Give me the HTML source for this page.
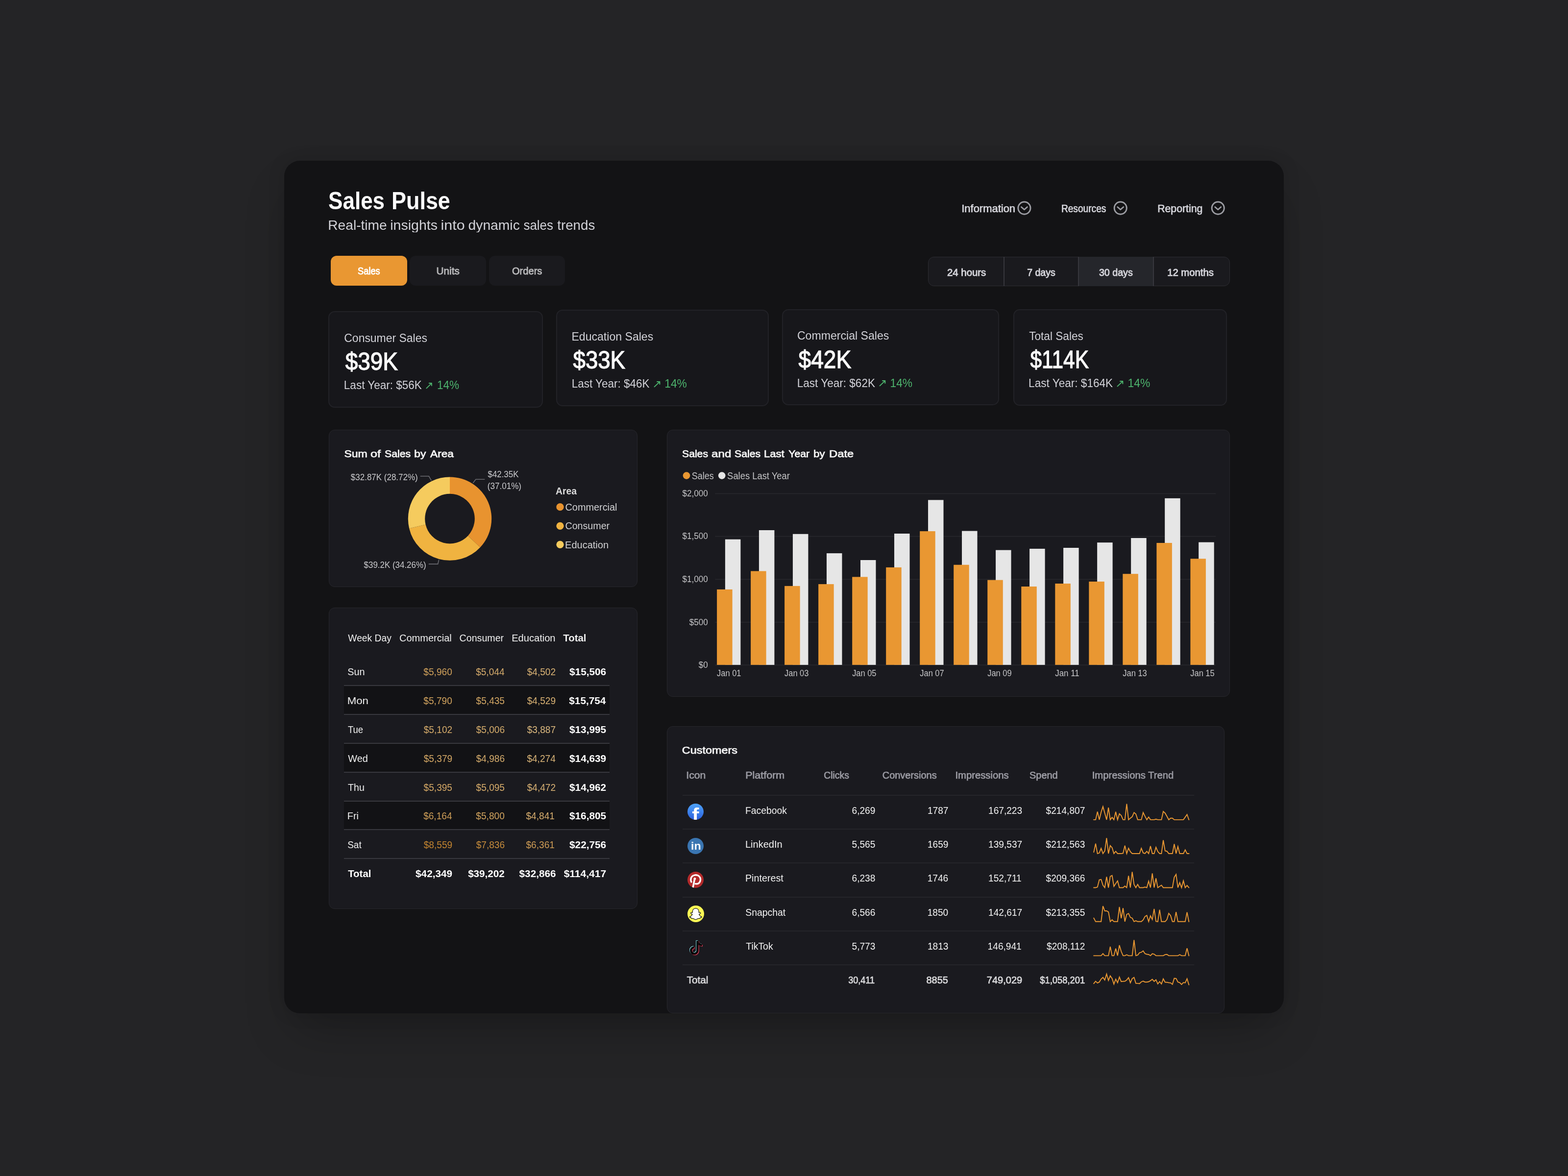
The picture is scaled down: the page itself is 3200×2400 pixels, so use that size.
<!DOCTYPE html>
<html lang="en">
<head>
<meta charset="utf-8">
<title>Sales Pulse</title>
<meta name="viewport" content="width=3200">
<style>
*{box-sizing:border-box;margin:0;padding:0}
html,body{width:3200px;height:2400px;overflow:hidden;background:#242426}
body{font-family:"Liberation Sans",sans-serif;-webkit-font-smoothing:antialiased}
.page{position:relative;overflow:hidden;background:#242426}
.abs,.panel,.card,.btn,.seg,.segon,.segdiv,.dot,.alt,.mline,.cline,.ico{position:absolute;display:block}
.panel{background:#131315;border-radius:32px;box-shadow:0 50px 100px -24px rgba(0,0,0,.26),0 0 36px rgba(0,0,0,.12);overflow:hidden}
.t{position:absolute;display:block;white-space:nowrap;line-height:1;transform-origin:0 0;font-weight:400;font-style:normal}
h1.t,h2.t,p.t{margin:0}
.card{border:1px solid #27272c;border-radius:12px}
.kpi{background:#17171b;border:2px solid #222227;border-radius:13px}
.viz{background:#1a1a1f}
.btn{background:#1a1a1e;border-radius:12px}
.btn.on{background:#e99732}
.seg{background:#1a1a1e;border:1px solid #2c2c32;border-radius:12px}
.segon{background:#25262b}
.segdiv{background:#37373d}
.dot{border-radius:50%}
.alt{background:#121215}
.mline{background:#38383e}
.cline{background:#25252a}
.ico{border-radius:50%;overflow:hidden}
svg{overflow:visible}
</style>
</head>
<body>
<main class="page" style="left:0px;top:0px;width:3200px;height:2400px;">
 <section class="panel" style="left:580px;top:328px;width:2040px;height:1740px;">
  <header class="abs" style="left:0px;top:0px;width:2040px;height:160px;">
   <h1 class="abs" style="left:89px;top:49px;width:250px;height:65px;">
    <span class="t" style="left:1px;top:8px;font-size:50px;color:#fafafa;font-weight:700;transform:translateX(0.09px) scaleX(0.8800);">Sales </span>
    <span class="t" style="left:130px;top:8px;font-size:50px;color:#fafafa;font-weight:700;transform:translateX(0.09px) scaleX(0.8974);">Pulse</span>
   </h1>
   <p class="abs" style="left:89px;top:113px;width:546px;height:36px;">
    <span class="t" style="left:0px;top:5px;font-size:28px;color:#d2d2d8;transform:translateX(0.21px) scaleX(1.0059);height:28px;overflow:hidden;">Real-time </span>
    <span class="t" style="left:127px;top:5px;font-size:28px;color:#d2d2d8;transform:translateX(0.28px) scaleX(1.0195);height:28px;overflow:hidden;">insights </span>
    <span class="t" style="left:230px;top:5px;font-size:28px;color:#d2d2d8;transform:translateX(0.48px) scaleX(1.0902);height:28px;overflow:hidden;">into </span>
    <span class="t" style="left:286px;top:5px;font-size:28px;color:#d2d2d8;transform:translateX(0.58px) scaleX(1.0088);height:28px;overflow:hidden;">dynamic </span>
    <span class="t" style="left:399px;top:5px;font-size:28px;color:#d2d2d8;transform:translateX(0.39px) scaleX(0.9282);height:28px;overflow:hidden;">sales </span>
    <span class="t" style="left:468px;top:5px;font-size:28px;color:#d2d2d8;transform:translateX(0.24px) scaleX(0.9895);height:28px;overflow:hidden;">trends</span>
   </p>
   <nav class="abs" style="left:1370px;top:72px;width:570px;height:50px;">
    <span class="t" style="left:12px;top:16px;font-size:21.5px;color:#d6d6dc;transform:translateX(0.22px) scaleX(1.0214);-webkit-text-stroke:0.7px #d6d6dc;">Information</span>
    <svg class="abs" style="left:124px;top:8px;" width="33" height="33" viewBox="2074 408 33 33" aria-hidden="true">
     <g transform="translate(2090.4,424.6)"><circle r="12.6" fill="none" stroke="#9c9da3" stroke-width="2.9"/><path d="M-6 -2.1 L0 3.1 L6 -2.1" fill="none" stroke="#9c9da3" stroke-width="2.8" stroke-linecap="round" stroke-linejoin="round"/></g>
    </svg>
    <span class="t" style="left:215px;top:16px;font-size:21.5px;color:#d6d6dc;transform:translateX(0.89px) scaleX(0.8906);-webkit-text-stroke:0.7px #d6d6dc;">Resources</span>
    <svg class="abs" style="left:320px;top:8px;" width="33" height="33" viewBox="2270 408 33 33" aria-hidden="true">
     <g transform="translate(2286.7,424.6)"><circle r="12.6" fill="none" stroke="#9c9da3" stroke-width="2.9"/><path d="M-6 -2.1 L0 3.1 L6 -2.1" fill="none" stroke="#9c9da3" stroke-width="2.8" stroke-linecap="round" stroke-linejoin="round"/></g>
    </svg>
    <span class="t" style="left:412px;top:16px;font-size:21.5px;color:#d6d6dc;transform:translateX(0.22px) scaleX(0.9871);-webkit-text-stroke:0.7px #d6d6dc;">Reporting</span>
    <svg class="abs" style="left:519px;top:8px;" width="33" height="33" viewBox="2469 408 33 33" aria-hidden="true">
     <g transform="translate(2485.7,424.6)"><circle r="12.6" fill="none" stroke="#9c9da3" stroke-width="2.9"/><path d="M-6 -2.1 L0 3.1 L6 -2.1" fill="none" stroke="#9c9da3" stroke-width="2.8" stroke-linecap="round" stroke-linejoin="round"/></g>
    </svg>
   </nav>
  </header>
  <div class="abs" style="left:90px;top:187px;width:500px;height:75px;">
   <div class="btn on" style="left:5px;top:7px;width:156px;height:61px;">
    <span class="t" style="left:55px;top:20px;font-size:21px;color:#ffffff;transform:translateX(0.09px) scaleX(0.8678);-webkit-text-stroke:0.85px #ffffff;">Sales</span>
   </div>
   <div class="btn" style="left:166px;top:7px;width:156px;height:61px;">
    <span class="t" style="left:54px;top:20px;font-size:21px;color:#b9b9bb;transform:translateX(0.57px) scaleX(0.9867);-webkit-text-stroke:0.85px #b9b9bb;">Units</span>
   </div>
   <div class="btn" style="left:328px;top:7px;width:155px;height:61px;">
    <span class="t" style="left:46px;top:20px;font-size:21px;color:#b9b9bb;transform:translateX(0.98px) scaleX(0.9574);-webkit-text-stroke:0.85px #b9b9bb;">Orders</span>
   </div>
  </div>
  <div class="seg" style="left:1314px;top:196px;width:616px;height:60px;">
   <div class="segon" style="left:306px;top:-1px;width:153px;height:60px;">
   </div>
   <div class="segdiv" style="left:153px;top:-1px;width:2px;height:60px;">
   </div>
   <div class="segdiv" style="left:305px;top:-1px;width:2px;height:60px;">
   </div>
   <div class="segdiv" style="left:458px;top:-1px;width:2px;height:60px;">
   </div>
   <span class="t" style="left:38px;top:21px;font-size:20px;color:#d4d4da;transform:translateX(0.02px) scaleX(1.0186);-webkit-text-stroke:0.9px #d4d4da;">24 hours</span>
   <span class="t" style="left:201px;top:21px;font-size:20px;color:#d4d4da;transform:translateX(0.17px) scaleX(0.9777);-webkit-text-stroke:0.9px #d4d4da;">7 days</span>
   <span class="t" style="left:347px;top:21px;font-size:20px;color:#d4d4da;transform:translateX(0.90px) scaleX(0.9831);-webkit-text-stroke:0.9px #d4d4da;">30 days</span>
   <span class="t" style="left:487px;top:21px;font-size:20px;color:#d4d4da;transform:translateX(0.17px) scaleX(1.0137);-webkit-text-stroke:0.9px #d4d4da;">12 months</span>
  </div>
  <article class="card kpi" style="left:90px;top:307px;width:438px;height:197px;">
   <span class="t" style="left:30px;top:41px;font-size:24.5px;color:#d2d2d8;transform:translateX(0.30px) scaleX(0.9364);">Consumer Sales</span>
   <span class="t" style="left:32px;top:76px;font-size:50.5px;color:#fafafa;transform:translateX(0.64px) scaleX(0.9103);-webkit-text-stroke:1.3px #fafafa;">$39K</span>
   <span class="t" style="left:29px;top:137px;font-size:24.5px;color:#d2d2d8;transform:translateX(0.83px) scaleX(0.9191);">Last Year: $56K</span>
   <span class="t" style="left:194px;top:140px;font-size:21.5px;color:#4db36d;transform:translateX(0.11px) scaleX(1.0211);font-family:"DejaVu Sans", sans-serif;">↗</span>
   <span class="t" style="left:219px;top:137px;font-size:24.5px;color:#4db36d;transform:translateX(0.91px) scaleX(0.9214);">14%</span>
  </article>
  <article class="card kpi" style="left:555px;top:304px;width:434px;height:197px;">
   <span class="t" style="left:29px;top:41px;font-size:24.5px;color:#d2d2d8;transform:translateX(0.42px) scaleX(0.9422);">Education Sales</span>
   <span class="t" style="left:32px;top:76px;font-size:50.5px;color:#fafafa;transform:translateX(0.52px) scaleX(0.9029);-webkit-text-stroke:1.3px #fafafa;">$33K</span>
   <span class="t" style="left:29px;top:137px;font-size:24.5px;color:#d2d2d8;transform:translateX(0.63px) scaleX(0.9189);">Last Year: $46K</span>
   <span class="t" style="left:194px;top:140px;font-size:21.5px;color:#4db36d;transform:translateX(0.37px) scaleX(1.0599);font-family:"DejaVu Sans", sans-serif;">↗</span>
   <span class="t" style="left:219px;top:137px;font-size:24.5px;color:#4db36d;transform:translateX(0.26px) scaleX(0.9294);">14%</span>
  </article>
  <article class="card kpi" style="left:1016px;top:303px;width:443px;height:196px;">
   <span class="t" style="left:28px;top:40px;font-size:24.5px;color:#d2d2d8;transform:translateX(0.91px) scaleX(0.9429);">Commercial Sales</span>
   <span class="t" style="left:31px;top:76px;font-size:50.5px;color:#fafafa;transform:translateX(0.60px) scaleX(0.9119);-webkit-text-stroke:1.3px #fafafa;">$42K</span>
   <span class="t" style="left:28px;top:137px;font-size:24.5px;color:#d2d2d8;transform:translateX(0.68px) scaleX(0.9209);">Last Year: $62K</span>
   <span class="t" style="left:193px;top:139px;font-size:21.5px;color:#4db36d;transform:translateX(0.04px) scaleX(1.0534);font-family:"DejaVu Sans", sans-serif;">↗</span>
   <span class="t" style="left:218px;top:137px;font-size:24.5px;color:#4db36d;transform:translateX(0.49px) scaleX(0.9304);">14%</span>
  </article>
  <article class="card kpi" style="left:1488px;top:303px;width:436px;height:197px;">
   <span class="t" style="left:30px;top:41px;font-size:24.5px;color:#d2d2d8;transform:translateX(0.16px) scaleX(0.9235);">Total Sales</span>
   <span class="t" style="left:32px;top:76px;font-size:50.5px;color:#fafafa;transform:translateX(0.43px) scaleX(0.8398);-webkit-text-stroke:1.3px #fafafa;">$114K</span>
   <span class="t" style="left:29px;top:137px;font-size:24.5px;color:#d2d2d8;transform:translateX(0.08px) scaleX(0.9222);">Last Year: $164K</span>
   <span class="t" style="left:206px;top:140px;font-size:21.5px;color:#4db36d;transform:translateX(0.04px) scaleX(1.0534);font-family:"DejaVu Sans", sans-serif;">↗</span>
   <span class="t" style="left:231px;top:137px;font-size:24.5px;color:#4db36d;transform:translateX(0.57px) scaleX(0.9312);">14%</span>
  </article>
  <article class="card viz" style="left:91px;top:549px;width:630px;height:321px;">
   <h2 class="abs" style="left:29px;top:36px;width:227px;height:26px;">
    <span class="t" style="left:1px;top:2px;font-size:20.5px;color:#f6f6f6;transform:translateX(0.41px) scaleX(1.1239);-webkit-text-stroke:0.75px #f6f6f6;">Sum </span>
    <span class="t" style="left:55px;top:2px;font-size:20.5px;color:#f6f6f6;transform:translateX(0.07px) scaleX(1.2260);-webkit-text-stroke:0.75px #f6f6f6;">of </span>
    <span class="t" style="left:84px;top:2px;font-size:20.5px;color:#f6f6f6;transform:translateX(0.08px) scaleX(1.0337);-webkit-text-stroke:0.75px #f6f6f6;">Sales </span>
    <span class="t" style="left:144px;top:2px;font-size:20.5px;color:#f6f6f6;transform:translateX(0.36px) scaleX(1.1073);-webkit-text-stroke:0.75px #f6f6f6;">by </span>
    <span class="t" style="left:177px;top:2px;font-size:20.5px;color:#f6f6f6;transform:translateX(0.05px) scaleX(1.1047);-webkit-text-stroke:0.75px #f6f6f6;">Area</span>
   </h2>
   <svg class="abs" style="left:146px;top:80px;" width="201" height="201" viewBox="818 958 201 201" aria-hidden="true">
    <g transform="translate(918.0,1058.6)"><path d="M0.00 -85.20 A85.2 85.2 0 0 1 62.07 58.36 L37.01 34.80 A50.8 50.8 0 0 0 0.00 -50.80 Z" fill="#e8932f"/><path d="M62.07 58.36 A85.2 85.2 0 0 1 -82.87 19.79 L-49.41 11.80 A50.8 50.8 0 0 0 37.01 34.80 Z" fill="#f0b340"/><path d="M-82.87 19.79 A85.2 85.2 0 0 1 -0.00 -85.20 L-0.00 -50.80 A50.8 50.8 0 0 0 -49.41 11.80 Z" fill="#f5cb5e"/><polyline points="-60.3,-86.8 -42.8,-86.8 -37.7,-77.9" fill="none" stroke="#6a6a70" stroke-width="1.6"/><polyline points="71.3,-80.4 53.0,-80.4 47.3,-72.8" fill="none" stroke="#6a6a70" stroke-width="1.6"/><polyline points="-43.2,92.5 -24.4,92.5 -22.3,83.9" fill="none" stroke="#6a6a70" stroke-width="1.6"/></g>
   </svg>
   <span class="t" style="left:43px;top:87px;font-size:18.5px;color:#c9c9cc;transform:translateX(0.87px) scaleX(0.9171);">$32.87K (28.72%)</span>
   <span class="t" style="left:323px;top:81px;font-size:18.5px;color:#c9c9cc;transform:translateX(0.50px) scaleX(0.9130);">$42.35K</span>
   <span class="t" style="left:322px;top:105px;font-size:18.5px;color:#c9c9cc;transform:translateX(0.80px) scaleX(0.9226);">(37.01%)</span>
   <span class="t" style="left:70px;top:266px;font-size:18.5px;color:#c9c9cc;transform:translateX(0.60px) scaleX(0.9146);">$39.2K (34.26%)</span>
   <span class="t" style="left:462px;top:114px;font-size:20px;color:#dcdcdc;font-weight:700;transform:translateX(0.08px) scaleX(0.9648);">Area</span>
   <svg class="abs" style="left:462px;top:148px;" width="19" height="19" viewBox="1134 1026 19 19" aria-hidden="true">
    <circle cx="1143.0" cy="1034.7" r="7.65" fill="#e8932f"/>
   </svg>
   <span class="t" style="left:481px;top:147px;font-size:20px;color:#d2d2d4;transform:translateX(0.52px) scaleX(0.9933);">Commercial</span>
   <svg class="abs" style="left:462px;top:186px;" width="19" height="19" viewBox="1134 1064 19 19" aria-hidden="true">
    <circle cx="1143.0" cy="1073.3" r="7.65" fill="#f0b340"/>
   </svg>
   <span class="t" style="left:481px;top:185px;font-size:20px;color:#d2d2d4;transform:translateX(0.44px) scaleX(0.9834);">Consumer</span>
   <svg class="abs" style="left:462px;top:224px;" width="19" height="19" viewBox="1134 1102 19 19" aria-hidden="true">
    <circle cx="1143.0" cy="1111.3" r="7.65" fill="#f5cb5e"/>
   </svg>
   <span class="t" style="left:481px;top:224px;font-size:20px;color:#d2d2d4;transform:translateX(0.11px) scaleX(0.9998);">Education</span>
  </article>
  <article class="card viz" style="left:91px;top:912px;width:630px;height:615px;">
   <span class="t" style="left:38px;top:51px;font-size:20.5px;color:#f0f0f0;transform:translateX(0.31px) scaleX(0.9399);">Week Day</span>
   <span class="t" style="left:143px;top:51px;font-size:20.5px;color:#f0f0f0;transform:translateX(0.04px) scaleX(0.9760);">Commercial</span>
   <span class="t" style="left:265px;top:51px;font-size:20.5px;color:#f0f0f0;transform:translateX(0.54px) scaleX(0.9579);">Consumer</span>
   <span class="t" style="left:372px;top:51px;font-size:20.5px;color:#f0f0f0;transform:translateX(0.15px) scaleX(0.9805);">Education</span>
   <span class="t" style="left:477px;top:51px;font-size:20.5px;color:#f0f0f0;font-weight:700;transform:translateX(0.15px) scaleX(0.9989);">Total</span>
   <div class="mline" style="left:30px;top:157px;width:542px;height:2px;">
   </div>
   <span class="t" style="left:37px;top:120px;font-size:20.5px;color:#f0f0f0;transform:translateX(0.19px) scaleX(0.9666);">Sun</span>
   <span class="t" style="left:192px;top:120px;font-size:20.5px;color:#d0a15b;transform:translateX(0.37px) scaleX(0.9312);">$5,960</span>
   <span class="t" style="left:299px;top:120px;font-size:20.5px;color:#d5ab6b;transform:translateX(0.13px) scaleX(0.9312);">$5,044</span>
   <span class="t" style="left:403px;top:120px;font-size:20.5px;color:#d8b174;transform:translateX(0.70px) scaleX(0.9312);">$4,502</span>
   <span class="t" style="left:490px;top:120px;font-size:20.5px;color:#ffffff;font-weight:700;transform:translateX(0.05px) scaleX(1.0137);">$15,506</span>
   <div class="alt" style="left:30px;top:159px;width:542px;height:58px;">
   </div>
   <div class="mline" style="left:30px;top:216px;width:542px;height:2px;">
   </div>
   <span class="t" style="left:36px;top:179px;font-size:20.5px;color:#f0f0f0;transform:translateX(0.68px) scaleX(1.0856);">Mon</span>
   <span class="t" style="left:192px;top:179px;font-size:20.5px;color:#d1a35e;transform:translateX(0.37px) scaleX(0.9312);">$5,790</span>
   <span class="t" style="left:299px;top:179px;font-size:20.5px;color:#d3a764;transform:translateX(0.60px) scaleX(0.9312);">$5,435</span>
   <span class="t" style="left:403px;top:179px;font-size:20.5px;color:#d8b173;transform:translateX(0.70px) scaleX(0.9312);">$4,529</span>
   <span class="t" style="left:489px;top:179px;font-size:20.5px;color:#ffffff;font-weight:700;transform:translateX(0.29px) scaleX(1.0137);">$15,754</span>
   <div class="mline" style="left:30px;top:275px;width:542px;height:2px;">
   </div>
   <span class="t" style="left:37px;top:238px;font-size:20.5px;color:#f0f0f0;transform:translateX(0.99px) scaleX(0.9011);">Tue</span>
   <span class="t" style="left:192px;top:238px;font-size:20.5px;color:#d4aa6a;transform:translateX(0.74px) scaleX(0.9312);">$5,102</span>
   <span class="t" style="left:299px;top:238px;font-size:20.5px;color:#d5ac6b;transform:translateX(0.71px) scaleX(0.9312);">$5,006</span>
   <span class="t" style="left:403px;top:238px;font-size:20.5px;color:#dbb87e;transform:translateX(0.70px) scaleX(0.9312);">$3,887</span>
   <span class="t" style="left:489px;top:238px;font-size:20.5px;color:#ffffff;font-weight:700;transform:translateX(0.96px) scaleX(1.0137);">$13,995</span>
   <div class="alt" style="left:30px;top:277px;width:542px;height:58px;">
   </div>
   <div class="mline" style="left:30px;top:334px;width:542px;height:2px;">
   </div>
   <span class="t" style="left:38px;top:297px;font-size:20.5px;color:#f0f0f0;transform:translateX(0.21px) scaleX(0.9713);">Wed</span>
   <span class="t" style="left:192px;top:297px;font-size:20.5px;color:#d3a765;transform:translateX(0.73px) scaleX(0.9312);">$5,379</span>
   <span class="t" style="left:299px;top:297px;font-size:20.5px;color:#d5ac6c;transform:translateX(0.71px) scaleX(0.9312);">$4,986</span>
   <span class="t" style="left:403px;top:297px;font-size:20.5px;color:#d9b478;transform:translateX(0.38px) scaleX(0.9312);">$4,274</span>
   <span class="t" style="left:490px;top:297px;font-size:20.5px;color:#ffffff;font-weight:700;transform:translateX(0.05px) scaleX(1.0137);">$14,639</span>
   <div class="mline" style="left:30px;top:393px;width:542px;height:2px;">
   </div>
   <span class="t" style="left:38px;top:356px;font-size:20.5px;color:#f0f0f0;transform:translateX(0.06px) scaleX(0.9565);">Thu</span>
   <span class="t" style="left:192px;top:356px;font-size:20.5px;color:#d3a765;transform:translateX(0.60px) scaleX(0.9312);">$5,395</span>
   <span class="t" style="left:299px;top:356px;font-size:20.5px;color:#d5ab6a;transform:translateX(0.60px) scaleX(0.9312);">$5,095</span>
   <span class="t" style="left:403px;top:356px;font-size:20.5px;color:#d8b174;transform:translateX(0.70px) scaleX(0.9312);">$4,472</span>
   <span class="t" style="left:490px;top:356px;font-size:20.5px;color:#ffffff;font-weight:700;transform:translateX(0.05px) scaleX(1.0137);">$14,962</span>
   <div class="alt" style="left:30px;top:395px;width:542px;height:57px;">
   </div>
   <div class="mline" style="left:30px;top:451px;width:542px;height:2px;">
   </div>
   <span class="t" style="left:36px;top:414px;font-size:20.5px;color:#f0f0f0;transform:translateX(0.83px) scaleX(0.9705);">Fri</span>
   <span class="t" style="left:192px;top:414px;font-size:20.5px;color:#cf9f58;transform:translateX(0.13px) scaleX(0.9312);">$6,164</span>
   <span class="t" style="left:299px;top:414px;font-size:20.5px;color:#d1a35e;transform:translateX(0.37px) scaleX(0.9312);">$5,800</span>
   <span class="t" style="left:401px;top:414px;font-size:20.5px;color:#d6ad6e;transform:translateX(0.50px) scaleX(0.9312);">$4,841</span>
   <span class="t" style="left:489px;top:414px;font-size:20.5px;color:#ffffff;font-weight:700;transform:translateX(0.96px) scaleX(1.0137);">$16,805</span>
   <div class="mline" style="left:30px;top:510px;width:542px;height:2px;">
   </div>
   <span class="t" style="left:37px;top:473px;font-size:20.5px;color:#f0f0f0;transform:translateX(0.15px) scaleX(0.9270);">Sat</span>
   <span class="t" style="left:192px;top:473px;font-size:20.5px;color:#c28430;transform:translateX(0.73px) scaleX(0.9312);">$8,559</span>
   <span class="t" style="left:299px;top:473px;font-size:20.5px;color:#c68c3c;transform:translateX(0.71px) scaleX(0.9312);">$7,836</span>
   <span class="t" style="left:401px;top:473px;font-size:20.5px;color:#ce9c55;transform:translateX(0.50px) scaleX(0.9312);">$6,361</span>
   <span class="t" style="left:490px;top:473px;font-size:20.5px;color:#ffffff;font-weight:700;transform:translateX(0.05px) scaleX(1.0137);">$22,756</span>
   <span class="t" style="left:38px;top:532px;font-size:20.5px;color:#ffffff;font-weight:700;transform:translateX(0.15px) scaleX(0.9967);">Total</span>
   <span class="t" style="left:176px;top:532px;font-size:20.5px;color:#ffffff;font-weight:700;transform:translateX(0.06px) scaleX(1.0123);">$42,349</span>
   <span class="t" style="left:283px;top:532px;font-size:20.5px;color:#ffffff;font-weight:700;transform:translateX(0.13px) scaleX(1.0077);">$39,202</span>
   <span class="t" style="left:387px;top:532px;font-size:20.5px;color:#ffffff;font-weight:700;transform:translateX(0.60px) scaleX(1.0099);">$32,866</span>
   <span class="t" style="left:478px;top:532px;font-size:20.5px;color:#ffffff;font-weight:700;transform:translateX(0.64px) scaleX(1.0259);">$114,417</span>
  </article>
  <article class="card viz" style="left:781px;top:549px;width:1149px;height:545px;">
   <h2 class="abs" style="left:28px;top:36px;width:354px;height:26px;">
    <span class="t" style="left:2px;top:2px;font-size:20.5px;color:#f6f6f6;transform:translateX(0.07px) scaleX(1.0312);-webkit-text-stroke:0.75px #f6f6f6;">Sales </span>
    <span class="t" style="left:62px;top:2px;font-size:20.5px;color:#f6f6f6;transform:translateX(0.11px) scaleX(1.1756);-webkit-text-stroke:0.75px #f6f6f6;">and </span>
    <span class="t" style="left:109px;top:2px;font-size:20.5px;color:#f6f6f6;transform:translateX(0.04px) scaleX(1.0335);-webkit-text-stroke:0.75px #f6f6f6;">Sales </span>
    <span class="t" style="left:168px;top:2px;font-size:20.5px;color:#f6f6f6;transform:translateX(0.95px) scaleX(1.0781);-webkit-text-stroke:0.75px #f6f6f6;">Last </span>
    <span class="t" style="left:219px;top:2px;font-size:20.5px;color:#f6f6f6;transform:translateX(0.20px) scaleX(1.0380);-webkit-text-stroke:0.75px #f6f6f6;">Year </span>
    <span class="t" style="left:270px;top:2px;font-size:20.5px;color:#f6f6f6;transform:translateX(0.18px) scaleX(1.0698);-webkit-text-stroke:0.75px #f6f6f6;">by </span>
    <span class="t" style="left:302px;top:2px;font-size:20.5px;color:#f6f6f6;transform:translateX(0.03px) scaleX(1.1624);-webkit-text-stroke:0.75px #f6f6f6;">Date</span>
   </h2>
   <svg class="abs" style="left:30px;top:84px;" width="18" height="18" viewBox="1392 962 18 18" aria-hidden="true">
    <circle cx="1401.0" cy="970.6" r="7.35" fill="#e99732"/>
   </svg>
   <span class="t" style="left:49px;top:83px;font-size:20.5px;color:#c4c4c6;transform:translateX(0.66px) scaleX(0.8768);">Sales</span>
   <svg class="abs" style="left:102px;top:84px;" width="18" height="18" viewBox="1464 962 18 18" aria-hidden="true">
    <circle cx="1473.2" cy="970.6" r="7.35" fill="#e6e6e6"/>
   </svg>
   <span class="t" style="left:122px;top:83px;font-size:20.5px;color:#c4c4c6;transform:translateX(0.12px) scaleX(0.8968);">Sales Last Year</span>
   <span class="t" style="left:30px;top:120px;font-size:18px;color:#c4c4c6;transform:translateX(0.56px) scaleX(0.9493);">$2,000</span>
   <span class="t" style="left:30px;top:207px;font-size:18px;color:#c4c4c6;transform:translateX(0.56px) scaleX(0.9493);">$1,500</span>
   <span class="t" style="left:30px;top:295px;font-size:18px;color:#c4c4c6;transform:translateX(0.56px) scaleX(0.9493);">$1,000</span>
   <span class="t" style="left:44px;top:383px;font-size:18px;color:#c4c4c6;transform:translateX(0.80px) scaleX(0.9493);">$500</span>
   <span class="t" style="left:63px;top:470px;font-size:18px;color:#c4c4c6;transform:translateX(0.83px) scaleX(0.9493);">$0</span>
   <svg class="abs" style="left:88px;top:122px;" width="1041" height="366" viewBox="1450 1000 1041 366" aria-hidden="true">
    <rect x="1459.3" y="1006.4" width="1021.9" height="2" fill="#26262b"/>
    <rect x="1459.3" y="1093.6" width="1021.9" height="2" fill="#26262b"/>
    <rect x="1459.3" y="1181.4" width="1021.9" height="2" fill="#26262b"/>
    <rect x="1459.3" y="1268.8" width="1021.9" height="2" fill="#26262b"/>
    <rect x="1459.3" y="1356.2" width="1021.9" height="2" fill="#26262b"/>
    <rect x="1479.90" y="1100.70" width="31.5" height="256.20" fill="#e6e6e6"/>
    <rect x="1463.10" y="1202.90" width="31.5" height="154.00" fill="#e99732"/>
    <rect x="1548.92" y="1082.00" width="31.5" height="274.90" fill="#e6e6e6"/>
    <rect x="1532.12" y="1165.50" width="31.5" height="191.40" fill="#e99732"/>
    <rect x="1617.94" y="1089.80" width="31.5" height="267.10" fill="#e6e6e6"/>
    <rect x="1601.14" y="1195.90" width="31.5" height="161.00" fill="#e99732"/>
    <rect x="1686.96" y="1129.10" width="31.5" height="227.80" fill="#e6e6e6"/>
    <rect x="1670.16" y="1192.10" width="31.5" height="164.80" fill="#e99732"/>
    <rect x="1755.98" y="1143.00" width="31.5" height="213.90" fill="#e6e6e6"/>
    <rect x="1739.18" y="1177.40" width="31.5" height="179.50" fill="#e99732"/>
    <rect x="1825.00" y="1089.00" width="31.5" height="267.90" fill="#e6e6e6"/>
    <rect x="1808.20" y="1157.90" width="31.5" height="199.00" fill="#e99732"/>
    <rect x="1894.02" y="1020.40" width="31.5" height="336.50" fill="#e6e6e6"/>
    <rect x="1877.22" y="1084.10" width="31.5" height="272.80" fill="#e99732"/>
    <rect x="1963.04" y="1083.60" width="31.5" height="273.30" fill="#e6e6e6"/>
    <rect x="1946.24" y="1152.70" width="31.5" height="204.20" fill="#e99732"/>
    <rect x="2032.06" y="1122.60" width="31.5" height="234.30" fill="#e6e6e6"/>
    <rect x="2015.26" y="1183.70" width="31.5" height="173.20" fill="#e99732"/>
    <rect x="2101.08" y="1119.90" width="31.5" height="237.00" fill="#e6e6e6"/>
    <rect x="2084.28" y="1197.00" width="31.5" height="159.90" fill="#e99732"/>
    <rect x="2170.10" y="1118.00" width="31.5" height="238.90" fill="#e6e6e6"/>
    <rect x="2153.30" y="1191.00" width="31.5" height="165.90" fill="#e99732"/>
    <rect x="2239.12" y="1107.20" width="31.5" height="249.70" fill="#e6e6e6"/>
    <rect x="2222.32" y="1186.90" width="31.5" height="170.00" fill="#e99732"/>
    <rect x="2308.14" y="1098.00" width="31.5" height="258.90" fill="#e6e6e6"/>
    <rect x="2291.34" y="1171.20" width="31.5" height="185.70" fill="#e99732"/>
    <rect x="2377.16" y="1016.90" width="31.5" height="340.00" fill="#e6e6e6"/>
    <rect x="2360.36" y="1108.00" width="31.5" height="248.90" fill="#e99732"/>
    <rect x="2446.18" y="1106.60" width="31.5" height="250.30" fill="#e6e6e6"/>
    <rect x="2429.38" y="1140.30" width="31.5" height="216.60" fill="#e99732"/>
   </svg>
   <span class="t" style="left:101px;top:488px;font-size:17.5px;color:#c4c4c6;transform:translateX(0.11px) scaleX(0.9384);">Jan 01</span>
   <span class="t" style="left:239px;top:488px;font-size:17.5px;color:#c4c4c6;transform:translateX(0.10px) scaleX(0.9362);">Jan 03</span>
   <span class="t" style="left:377px;top:488px;font-size:17.5px;color:#c4c4c6;transform:translateX(0.16px) scaleX(0.9373);">Jan 05</span>
   <span class="t" style="left:515px;top:488px;font-size:17.5px;color:#c4c4c6;transform:translateX(0.31px) scaleX(0.9379);">Jan 07</span>
   <span class="t" style="left:653px;top:488px;font-size:17.5px;color:#c4c4c6;transform:translateX(0.20px) scaleX(0.9402);">Jan 09</span>
   <span class="t" style="left:791px;top:488px;font-size:17.5px;color:#c4c4c6;transform:translateX(0.28px) scaleX(0.9630);">Jan 11</span>
   <span class="t" style="left:929px;top:488px;font-size:17.5px;color:#c4c4c6;transform:translateX(0.29px) scaleX(0.9405);">Jan 13</span>
   <span class="t" style="left:1067px;top:488px;font-size:17.5px;color:#c4c4c6;transform:translateX(0.30px) scaleX(0.9393);">Jan 15</span>
  </article>
  <article class="card viz" style="left:781px;top:1154px;width:1138px;height:586px;">
   <h2 class="t" style="left:29px;top:38px;font-size:20.5px;color:#f6f6f6;transform:translateX(0.83px) scaleX(1.1411);-webkit-text-stroke:0.75px #f6f6f6;">Customers</h2>
   <span class="t" style="left:38px;top:89px;font-size:20px;color:#9b9ba3;transform:translateX(0.31px) scaleX(1.0592);-webkit-text-stroke:0.7px #9b9ba3;">Icon</span>
   <span class="t" style="left:159px;top:89px;font-size:20px;color:#9b9ba3;transform:translateX(0.18px) scaleX(1.0757);-webkit-text-stroke:0.7px #9b9ba3;">Platform</span>
   <span class="t" style="left:319px;top:89px;font-size:20px;color:#9b9ba3;transform:translateX(0.28px) scaleX(0.9664);-webkit-text-stroke:0.7px #9b9ba3;">Clicks</span>
   <span class="t" style="left:438px;top:89px;font-size:20px;color:#9b9ba3;transform:translateX(0.73px) scaleX(0.9982);-webkit-text-stroke:0.7px #9b9ba3;">Conversions</span>
   <span class="t" style="left:587px;top:89px;font-size:20px;color:#9b9ba3;transform:translateX(0.39px) scaleX(1.0132);-webkit-text-stroke:0.7px #9b9ba3;">Impressions</span>
   <span class="t" style="left:739px;top:89px;font-size:20px;color:#9b9ba3;transform:translateX(0.09px) scaleX(0.9939);-webkit-text-stroke:0.7px #9b9ba3;">Spend</span>
   <span class="t" style="left:866px;top:89px;font-size:20px;color:#9b9ba3;transform:translateX(0.68px) scaleX(1.0125);-webkit-text-stroke:0.7px #9b9ba3;">Impressions Trend</span>
   <div class="cline" style="left:31px;top:139px;width:1044px;height:2px;">
   </div>
   <div class="cline" style="left:31px;top:208px;width:1044px;height:2px;">
   </div>
   <div class="cline" style="left:31px;top:277px;width:1044px;height:2px;">
   </div>
   <div class="cline" style="left:31px;top:347px;width:1044px;height:2px;">
   </div>
   <div class="cline" style="left:31px;top:416px;width:1044px;height:2px;">
   </div>
   <div class="cline" style="left:31px;top:485px;width:1044px;height:2px;">
   </div>
   <span class="t" style="left:159px;top:161px;font-size:20.5px;color:#f2f2f2;transform:translateX(0.00px) scaleX(0.9431);">Facebook</span>
   <span class="t" style="left:376px;top:161px;font-size:20.5px;color:#f2f2f2;transform:translateX(0.53px) scaleX(0.9324);">6,269</span>
   <span class="t" style="left:530px;top:161px;font-size:20.5px;color:#f2f2f2;transform:translateX(0.91px) scaleX(0.9324);">1787</span>
   <span class="t" style="left:655px;top:161px;font-size:20.5px;color:#f2f2f2;transform:translateX(0.00px) scaleX(0.9324);">167,223</span>
   <span class="t" style="left:772px;top:161px;font-size:20.5px;color:#f2f2f2;transform:translateX(0.60px) scaleX(0.9324);">$214,807</span>
   <span class="t" style="left:158px;top:230px;font-size:20.5px;color:#f2f2f2;transform:translateX(0.89px) scaleX(0.9785);">LinkedIn</span>
   <span class="t" style="left:376px;top:230px;font-size:20.5px;color:#f2f2f2;transform:translateX(0.51px) scaleX(0.9324);">5,565</span>
   <span class="t" style="left:530px;top:230px;font-size:20.5px;color:#f2f2f2;transform:translateX(0.91px) scaleX(0.9324);">1659</span>
   <span class="t" style="left:655px;top:230px;font-size:20.5px;color:#f2f2f2;transform:translateX(0.05px) scaleX(0.9324);">139,537</span>
   <span class="t" style="left:772px;top:230px;font-size:20.5px;color:#f2f2f2;transform:translateX(0.58px) scaleX(0.9324);">$212,563</span>
   <span class="t" style="left:158px;top:299px;font-size:20.5px;color:#f2f2f2;transform:translateX(0.91px) scaleX(0.9633);">Pinterest</span>
   <span class="t" style="left:376px;top:299px;font-size:20.5px;color:#f2f2f2;transform:translateX(0.51px) scaleX(0.9324);">6,238</span>
   <span class="t" style="left:530px;top:299px;font-size:20.5px;color:#f2f2f2;transform:translateX(0.67px) scaleX(0.9324);">1746</span>
   <span class="t" style="left:655px;top:299px;font-size:20.5px;color:#f2f2f2;transform:translateX(0.07px) scaleX(0.9324);">152,711</span>
   <span class="t" style="left:772px;top:299px;font-size:20.5px;color:#f2f2f2;transform:translateX(0.58px) scaleX(0.9324);">$209,366</span>
   <span class="t" style="left:159px;top:369px;font-size:20.5px;color:#f2f2f2;transform:translateX(0.34px) scaleX(0.9449);">Snapchat</span>
   <span class="t" style="left:376px;top:369px;font-size:20.5px;color:#f2f2f2;transform:translateX(0.51px) scaleX(0.9324);">6,566</span>
   <span class="t" style="left:530px;top:369px;font-size:20.5px;color:#f2f2f2;transform:translateX(0.67px) scaleX(0.9324);">1850</span>
   <span class="t" style="left:655px;top:369px;font-size:20.5px;color:#f2f2f2;transform:translateX(0.05px) scaleX(0.9324);">142,617</span>
   <span class="t" style="left:772px;top:369px;font-size:20.5px;color:#f2f2f2;transform:translateX(0.58px) scaleX(0.9324);">$213,355</span>
   <span class="t" style="left:160px;top:438px;font-size:20.5px;color:#f2f2f2;transform:translateX(0.29px) scaleX(0.9460);">TikTok</span>
   <span class="t" style="left:376px;top:438px;font-size:20.5px;color:#f2f2f2;transform:translateX(0.51px) scaleX(0.9324);">5,773</span>
   <span class="t" style="left:530px;top:438px;font-size:20.5px;color:#f2f2f2;transform:translateX(0.90px) scaleX(0.9324);">1813</span>
   <span class="t" style="left:653px;top:438px;font-size:20.5px;color:#f2f2f2;transform:translateX(0.62px) scaleX(0.9324);">146,941</span>
   <span class="t" style="left:774px;top:438px;font-size:20.5px;color:#f2f2f2;transform:translateX(0.00px) scaleX(0.9324);">$208,112</span>
   <span class="t" style="left:39px;top:507px;font-size:20.5px;color:#dadadc;transform:translateX(0.75px) scaleX(1.0095);-webkit-text-stroke:0.7px #dadadc;">Total</span>
   <span class="t" style="left:369px;top:507px;font-size:20.5px;color:#dadadc;transform:translateX(0.15px) scaleX(0.8819);-webkit-text-stroke:0.7px #dadadc;">30,411</span>
   <span class="t" style="left:528px;top:507px;font-size:20.5px;color:#dadadc;transform:translateX(0.51px) scaleX(0.9708);-webkit-text-stroke:0.7px #dadadc;">8855</span>
   <span class="t" style="left:651px;top:507px;font-size:20.5px;color:#dadadc;transform:translateX(0.83px) scaleX(0.9759);-webkit-text-stroke:0.7px #dadadc;">749,029</span>
   <span class="t" style="left:760px;top:507px;font-size:20.5px;color:#dadadc;transform:translateX(0.33px) scaleX(0.8948);-webkit-text-stroke:0.7px #dadadc;">$1,058,201</span>
   <div class="ico" style="left:41px;top:157px;width:33px;height:33px;background:linear-gradient(180deg,#4fa3f7 0%,#3f86ee 45%,#2b5fdb 100%);">
    <span class="t" style="left:9px;top:4px;font-size:40px;color:#ffffff;font-weight:700;transform:translateX(0.25px) scaleX(1.0616);">f</span>
   </div>
   <div class="ico" style="left:41px;top:227px;width:33px;height:33px;background:#3a75b1;">
    <span class="t" style="left:7px;top:6px;font-size:22.5px;color:#ffffff;font-weight:700;transform:translateX(0.06px) scaleX(1.0333);">in</span>
   </div>
   <div class="ico" style="left:41px;top:296px;width:33px;height:33px;background:#b32a2b;">
    <svg class="abs" style="left:0;top:0" width="33" height="33" viewBox="-16.6 -16.7 33 33" aria-hidden="true"><path d="M-7.9 5.4 C-10.5 2.4 -10.6 -3.4 -7.5 -6.8 C-4.5 -10.1 1.6 -11 5.6 -8.6 C9.6 -6.2 11 -1.4 9.3 2.7 C8 6.1 5 8.3 1.6 8.2 C0.1 8.2 -0.9 7.9 -1.6 7.3" fill="none" stroke="#fff" stroke-width="3.4"/><path d="M-1.9 -2.4 L-5.5 15.6" fill="none" stroke="#fff" stroke-width="3.5" stroke-linecap="round"/><circle cx="-1.7" cy="-2.2" r="2.45" fill="#fff"/></svg>
   </div>
   <div class="ico" style="left:41px;top:365px;width:34px;height:34px;background:#fbf855;">
    <svg class="abs" style="left:0;top:0" width="34" height="34" viewBox="-17 -17 34 34" aria-hidden="true"><path transform="translate(-0.25,0.1)" d="M0 -11.1 C3.8 -11.1 6.4 -8.6 6.4 -4.9 L6.4 -2.9 C7.4 -2.6 8.3 -3.3 9.3 -2.9 C10.4 -2.4 10.3 -0.9 9.2 -0.3 C8.4 0.1 7.3 0.3 6.9 1.0 C7.8 3.4 9.8 5.2 12.3 6.1 C12.6 6.9 11.2 7.3 9.5 7.8 C9.0 8.4 9.0 9.3 8.0 9.3 C6.8 9.2 5.6 9.0 4.4 9.7 C3.0 10.5 1.8 11.5 0 11.5 C-1.8 11.5 -3.0 10.5 -4.4 9.7 C-5.6 9.0 -6.8 9.2 -8.0 9.3 C-9.0 9.3 -9.0 8.4 -9.5 7.8 C-11.2 7.3 -12.6 6.9 -12.3 6.1 C-9.8 5.2 -7.8 3.4 -6.9 1.0 C-7.3 0.3 -8.4 0.1 -9.2 -0.3 C-10.3 -0.9 -10.4 -2.4 -9.3 -2.9 C-8.3 -3.3 -7.4 -2.6 -6.4 -2.9 L-6.4 -4.9 C-6.4 -8.6 -3.8 -11.1 0 -11.1 Z" fill="#fff" stroke="#15150f" stroke-width="1.25" stroke-linejoin="round"/></svg>
   </div>
   <div class="ico" style="left:41px;top:435px;width:33px;height:33px;background:transparent;border-radius:0;overflow:visible;">
    <svg class="abs" style="left:0;top:0;overflow:visible" width="33" height="33" viewBox="-17 -16 33 33" aria-hidden="true"><g transform="translate(-1.15,-1.0)"><path d="M-3.3 -0.7 A6.6 6.6 0 1 0 3.4 5.9 L3.4 -14.1" fill="none" stroke="#79c4cb" stroke-width="4.2"/><path d="M5.4 -14.1 C6.1 -10.5 8.9 -7.6 12.8 -7.1 L12.8 -3.3 C10 -3.4 7.5 -4.2 5.4 -5.6 Z" fill="#79c4cb"/></g><g transform="translate(1.15,1.0)"><path d="M-3.3 -0.7 A6.6 6.6 0 1 0 3.4 5.9 L3.4 -14.1" fill="none" stroke="#e2405b" stroke-width="4.2"/><path d="M5.4 -14.1 C6.1 -10.5 8.9 -7.6 12.8 -7.1 L12.8 -3.3 C10 -3.4 7.5 -4.2 5.4 -5.6 Z" fill="#e2405b"/></g><g transform="translate(0,0)"><path d="M-3.3 -0.7 A6.6 6.6 0 1 0 3.4 5.9 L3.4 -14.1" fill="none" stroke="#020202" stroke-width="4.2"/><path d="M5.4 -14.1 C6.1 -10.5 8.9 -7.6 12.8 -7.1 L12.8 -3.3 C10 -3.4 7.5 -4.2 5.4 -5.6 Z" fill="#020202"/></g></svg>
   </div>
   <svg class="abs" style="left:863px;top:147px;" width="211" height="56" viewBox="2225 1630 211 56" aria-hidden="true">
    <polyline points="2232.25,1672.91 2235.98,1672.91 2239.72,1656.58 2243.45,1672.91 2247.18,1657.53 2250.91,1646.14 2254.64,1659.53 2258.37,1672.91 2262.10,1648.04 2265.83,1672.91 2269.56,1668.16 2273.29,1672.91 2277.03,1656.77 2280.76,1672.91 2284.49,1660.85 2288.22,1664.37 2291.95,1672.91 2295.68,1672.91 2299.41,1640.73 2303.14,1672.91 2306.87,1669.68 2310.60,1666.84 2314.34,1658.20 2318.07,1661.33 2321.80,1672.91 2325.53,1672.91 2329.26,1672.91 2332.99,1658.29 2336.72,1665.89 2340.45,1672.91 2344.18,1667.50 2347.91,1672.91 2351.65,1672.91 2355.38,1672.91 2359.11,1671.77 2362.84,1672.91 2366.57,1672.91 2370.30,1672.91 2374.03,1656.11 2377.76,1659.43 2381.49,1666.08 2385.22,1672.91 2388.96,1669.68 2392.69,1669.68 2396.42,1672.91 2400.15,1672.91 2403.88,1672.91 2407.61,1672.91 2411.34,1672.91 2415.07,1672.91 2418.80,1667.59 2422.53,1662.28 2426.27,1672.91" fill="none" stroke="#e99732" stroke-width="1.9" stroke-linejoin="miter" stroke-linecap="square"/>
   </svg>
   <svg class="abs" style="left:863px;top:217px;" width="211" height="56" viewBox="2225 1700 211 56" aria-hidden="true">
    <polyline points="2232.25,1738.92 2235.98,1721.65 2239.72,1741.96 2243.45,1740.82 2247.18,1731.33 2250.91,1741.96 2254.64,1736.55 2258.37,1710.25 2262.10,1741.96 2265.83,1725.82 2269.56,1729.91 2273.29,1741.96 2277.03,1737.50 2280.76,1741.96 2284.49,1741.96 2288.22,1741.96 2291.95,1741.39 2295.68,1725.63 2299.41,1741.96 2303.14,1731.04 2306.87,1738.16 2310.60,1741.96 2314.34,1741.96 2318.07,1741.96 2321.80,1741.96 2325.53,1741.96 2329.26,1731.14 2332.99,1740.63 2336.72,1741.96 2340.45,1737.50 2344.18,1741.96 2347.91,1726.77 2351.65,1741.96 2355.38,1741.96 2359.11,1729.15 2362.84,1737.78 2366.57,1741.96 2370.30,1741.96 2374.03,1714.72 2377.76,1736.55 2381.49,1737.22 2385.22,1741.96 2388.96,1741.96 2392.69,1741.96 2396.42,1722.31 2400.15,1741.96 2403.88,1727.53 2407.61,1741.96 2411.34,1741.96 2415.07,1741.96 2418.80,1734.37 2422.53,1741.96 2426.27,1741.96" fill="none" stroke="#e99732" stroke-width="1.9" stroke-linejoin="miter" stroke-linecap="square"/>
   </svg>
   <svg class="abs" style="left:863px;top:287px;" width="211" height="56" viewBox="2225 1770 211 56" aria-hidden="true">
    <polyline points="2232.25,1811.49 2235.98,1811.49 2239.72,1810.35 2243.45,1795.63 2247.18,1794.87 2250.91,1806.55 2254.64,1811.49 2258.37,1789.46 2262.10,1811.49 2265.83,1788.51 2269.56,1786.61 2273.29,1808.92 2277.03,1803.23 2280.76,1797.72 2284.49,1811.49 2288.22,1811.49 2291.95,1811.49 2295.68,1808.26 2299.41,1811.49 2303.14,1787.28 2306.87,1811.49 2310.60,1779.30 2314.34,1804.94 2318.07,1811.49 2321.80,1804.84 2325.53,1811.49 2329.26,1811.49 2332.99,1811.49 2336.72,1810.35 2340.45,1811.49 2344.18,1798.29 2347.91,1811.49 2351.65,1782.34 2355.38,1811.49 2359.11,1792.31 2362.84,1811.49 2366.57,1808.92 2370.30,1806.55 2374.03,1811.49 2377.76,1811.49 2381.49,1811.49 2385.22,1811.49 2388.96,1811.49 2392.69,1811.49 2396.42,1790.41 2400.15,1784.43 2403.88,1811.49 2407.61,1801.33 2411.34,1811.49 2415.07,1797.53 2418.80,1811.49 2422.53,1807.03 2426.27,1811.49" fill="none" stroke="#e99732" stroke-width="1.9" stroke-linejoin="miter" stroke-linecap="square"/>
   </svg>
   <svg class="abs" style="left:863px;top:357px;" width="211" height="56" viewBox="2225 1840 211 56" aria-hidden="true">
    <polyline points="2232.25,1873.70 2235.98,1880.82 2239.72,1880.82 2243.45,1880.82 2247.18,1880.82 2250.91,1849.02 2254.64,1858.99 2258.37,1858.99 2262.10,1861.08 2265.83,1880.82 2269.56,1877.03 2273.29,1880.82 2277.03,1880.82 2280.76,1880.82 2284.49,1850.92 2288.22,1874.18 2291.95,1853.29 2295.68,1880.82 2299.41,1866.11 2303.14,1864.21 2306.87,1872.28 2310.60,1873.70 2314.34,1880.82 2318.07,1879.11 2321.80,1880.82 2325.53,1880.82 2329.26,1880.82 2332.99,1877.50 2336.72,1870.38 2340.45,1868.20 2344.18,1880.82 2347.91,1868.96 2351.65,1876.55 2355.38,1854.91 2359.11,1880.35 2362.84,1880.82 2366.57,1856.61 2370.30,1880.82 2374.03,1880.82 2377.76,1880.82 2381.49,1876.55 2385.22,1864.02 2388.96,1868.48 2392.69,1880.82 2396.42,1880.82 2400.15,1861.08 2403.88,1880.82 2407.61,1880.82 2411.34,1880.82 2415.07,1880.82 2418.80,1880.82 2422.53,1861.65 2426.27,1880.82" fill="none" stroke="#e99732" stroke-width="1.9" stroke-linejoin="miter" stroke-linecap="square"/>
   </svg>
   <svg class="abs" style="left:863px;top:427px;" width="211" height="56" viewBox="2225 1910 211 56" aria-hidden="true">
    <polyline points="2232.25,1950.35 2235.98,1950.35 2239.72,1950.35 2243.45,1950.35 2247.18,1950.35 2250.91,1946.08 2254.64,1950.35 2258.37,1950.35 2262.10,1950.35 2265.83,1931.84 2269.56,1950.35 2273.29,1950.35 2277.03,1935.63 2280.76,1950.35 2284.49,1928.99 2288.22,1941.80 2291.95,1950.35 2295.68,1950.35 2299.41,1948.45 2303.14,1950.35 2306.87,1950.35 2310.60,1950.35 2314.34,1918.35 2318.07,1950.35 2321.80,1949.11 2325.53,1944.37 2329.26,1943.42 2332.99,1940.57 2336.72,1946.27 2340.45,1947.50 2344.18,1947.97 2347.91,1950.35 2351.65,1946.27 2355.38,1947.31 2359.11,1950.35 2362.84,1950.35 2366.57,1950.35 2370.30,1950.35 2374.03,1950.35 2377.76,1948.16 2381.49,1947.69 2385.22,1950.35 2388.96,1950.35 2392.69,1950.35 2396.42,1950.35 2400.15,1950.35 2403.88,1950.35 2407.61,1948.26 2411.34,1950.35 2415.07,1950.35 2418.80,1950.35 2422.53,1935.16 2426.27,1950.35" fill="none" stroke="#e99732" stroke-width="1.9" stroke-linejoin="miter" stroke-linecap="square"/>
   </svg>
   <svg class="abs" style="left:863px;top:497px;" width="211" height="56" viewBox="2225 1980 211 56" aria-hidden="true">
    <polyline points="2232.25,2007.06 2235.98,2002.59 2239.72,2006.11 2243.45,2004.21 2247.18,1998.04 2250.91,1994.72 2254.64,2000.13 2258.37,1987.78 2262.10,2000.89 2265.83,1991.58 2269.56,1996.90 2273.29,2008.29 2277.03,1998.23 2280.76,2005.44 2284.49,1994.05 2288.22,2003.26 2291.95,2002.78 2295.68,2002.59 2299.41,1999.94 2303.14,1995.19 2306.87,2005.63 2310.60,1997.09 2314.34,1994.72 2318.07,2006.87 2321.80,2006.87 2325.53,2007.53 2329.26,2003.73 2332.99,2002.31 2336.72,2004.21 2340.45,2004.21 2344.18,2003.54 2347.91,2001.36 2351.65,1998.51 2355.38,2002.78 2359.11,1999.46 2362.84,2008.01 2366.57,2003.26 2370.30,2008.01 2374.03,1997.56 2377.76,2004.49 2381.49,2004.68 2385.22,2005.44 2388.96,2005.82 2392.69,2008.96 2396.42,1996.61 2400.15,1996.90 2403.88,2004.21 2407.61,2005.44 2411.34,2009.24 2415.07,2005.16 2418.80,2005.63 2422.53,1997.37 2426.27,2009.62" fill="none" stroke="#e99732" stroke-width="1.9" stroke-linejoin="miter" stroke-linecap="square"/>
   </svg>
  </article>
 </section>
</main>
</body>
</html>
